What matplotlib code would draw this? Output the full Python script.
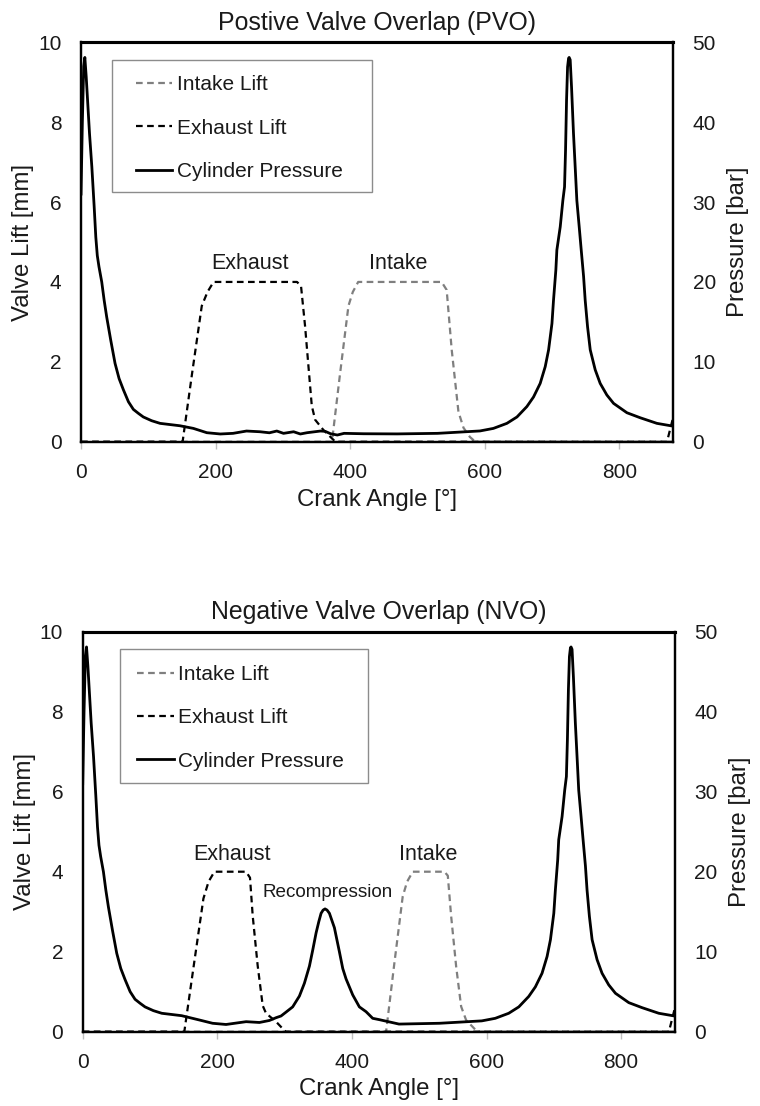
"""Valve lift and cylinder pressure traces for PVO and NVO strategies."""

import matplotlib

matplotlib.use("Agg")
import matplotlib.pyplot as plt
from matplotlib.lines import Line2D
from matplotlib.patches import Rectangle

plt.rcParams.update(
    {
        "font.family": ["Liberation Sans", "DejaVu Sans"],
        "font.size": 15,
        "text.color": "#1a1a1a",
        "axes.labelcolor": "#1a1a1a",
        "xtick.color": "#bfbfbf",
        "xtick.labelcolor": "#1a1a1a",
        "ytick.labelcolor": "#1a1a1a",
    }
)

INTAKE_GRAY = "#7f7f7f"

# --- positive valve overlap ---
pvo_exh_crank = [0, 151, 165, 179.5, 188, 197, 321, 327, 333, 338, 343, 348, 360, 375, 378, 871, 880]
pvo_exh_lift = [0, 0, 1.7, 3.4, 3.75, 4.0, 4.0, 3.9, 2.9, 1.9, 0.9, 0.55, 0.3, 0.05, 0, 0, 0.6]
pvo_int_crank = [0, 373, 385, 397.5, 404, 412, 536, 543.5, 551, 561, 568.5, 578, 586, 880]
pvo_int_lift = [0, 0, 1.7, 3.4, 3.75, 4.0, 4.0, 3.8, 2.3, 0.75, 0.35, 0.12, 0, 0]

# cylinder pressure, shared firing-peak readings
firing_crank = [
    0, 2, 4, 5.7, 7.7, 9.7, 12.6, 16.1, 19.5, 22.0, 24.2, 26.7, 30.8, 34.4, 38.2, 44.2,
    50.6, 56.6, 63, 70.5, 77.8, 85.3, 92.6, 105, 117.5, 147, 167,
]
firing_bar = [
    31, 40, 47, 48.1, 45.7, 42.8, 38.6, 34.4, 29.5, 25.6, 23.3, 21.9, 20, 17.7, 15.6, 12.7,
    9.8, 7.9, 6.5, 5.0, 4.05, 3.55, 3.1, 2.63, 2.3, 2.0, 1.67,
]
main_peak_crank = [
    593, 613, 633, 648, 662.7, 672.6, 682.5, 690, 695, 700, 702.3, 705.8, 707.3,
    712.3, 716.2, 718.7, 720.2, 721.7, 723.2, 724.7, 725.6, 727.1, 729.1, 732,
    735, 737, 740.5, 743.5, 747, 749.4, 752.9, 756.9, 764.3, 771.7, 781.6,
    791.6, 811.4, 831.2, 856, 880,
]
main_peak_bar = [
    1.35, 1.67, 2.3, 3.1, 4.4, 5.6, 7.3, 9.4, 11.5, 14.8, 17.7, 21.5, 24,
    26.9, 30.2, 31.9, 36.5, 42.8, 46.9, 48.0, 48.1, 47.8, 44.4, 38.6,
    33.6, 30.2, 26.9, 24, 20.7, 17.7, 14.4, 11.5, 9.0, 7.3, 5.85,
    4.8, 3.63, 3.0, 2.3, 1.95,
]
pvo_mid_crank = [
    187, 207, 226, 246, 266, 280, 291, 301, 316, 326, 336, 356, 363, 371, 381,
    391, 420, 470, 530,
]
pvo_mid_bar = [
    1.13, 0.97, 1.05, 1.34, 1.25, 1.12, 1.34, 1.05, 1.25, 0.97, 1.13, 1.34, 1.3, 1.0, 0.84,
    1.05, 1.0, 0.98, 1.05,
]

# --- negative valve overlap ---
nvo_exh_crank = [0, 151, 165, 179.4, 187, 195.7, 242.7, 248.6, 252.6, 260, 267.5, 272.4, 287.3, 299.7, 302, 871, 880]
nvo_exh_lift = [0, 0, 1.65, 3.33, 3.75, 4.0, 4.0, 3.85, 2.9, 1.65, 0.65, 0.46, 0.25, 0.03, 0, 0, 0.6]
nvo_int_crank = [0, 450.8, 463, 475.5, 482, 490.4, 537.5, 542.5, 547.4, 554.9, 562.3, 569.7, 584.6, 587, 880]
nvo_int_lift = [0, 0, 1.7, 3.38, 3.75, 4.0, 4.0, 3.9, 2.9, 1.63, 0.63, 0.29, 0.03, 0, 0]
nvo_mid_crank = [
    173.4, 193, 213, 242.8, 262.6, 277.4, 287.4, 294.7, 302.2, 312, 322, 329.4,
    336.9, 341.8, 346.8, 350.8, 354.2, 357.2, 360.1, 363.1, 366.6, 374, 381.4,
    386.4, 391.3, 401.2, 411.1, 421, 430.9, 440.9, 470, 530,
]
nvo_mid_bar = [
    1.46, 1.05, 0.9, 1.25, 1.15, 1.4, 1.75, 1.96, 2.45, 3.1, 4.45, 6.05,
    8.2, 10.2, 12.35, 13.75, 14.8, 15.2, 15.35, 15.2, 14.8, 13.0, 10.0,
    7.9, 6.6, 4.6, 3.1, 2.5, 1.67, 1.5, 0.95, 1.05,
]

pvo_p_crank = firing_crank + pvo_mid_crank + main_peak_crank
pvo_p_bar = firing_bar + pvo_mid_bar + main_peak_bar
nvo_p_crank = firing_crank[:-1] + nvo_mid_crank + main_peak_crank
nvo_p_bar = firing_bar[:-1] + nvo_mid_bar + main_peak_bar

legend_labels = ["Intake Lift", "Exhaust Lift", "Cylinder Pressure"]


def draw_panel(ax, title, exh, intake, pressure, notes, box, legend_xy):
    dash = (3.0, 2.0)
    ax.plot(intake[0], intake[1], color=INTAKE_GRAY, lw=1.6, dashes=dash, clip_on=False)
    ax.plot(exh[0], exh[1], color="black", lw=1.6, dashes=dash)
    ax.set_xlim(0, 880)
    ax.set_ylim(0, 10)
    ax.set_xticks([0, 200, 400, 600, 800])
    ax.set_yticks([0, 2, 4, 6, 8, 10])
    ax.tick_params(axis="x", direction="out", length=5, width=1, pad=10, labelsize=15)
    ax.tick_params(axis="y", length=0, pad=14, labelsize=15)
    ax.set_xlabel("Crank Angle [°]", fontsize=17.3, labelpad=5)
    ax.set_ylabel("Valve Lift [mm]", fontsize=17.3, labelpad=3)
    ax.set_title(title, fontsize=17.9, pad=9)

    axp = ax.twinx()
    axp.plot(pressure[0], pressure[1], color="black", lw=2.0, solid_joinstyle="round")
    axp.set_ylim(0, 50)
    axp.set_yticks([0, 10, 20, 30, 40, 50])
    axp.tick_params(axis="y", length=0, pad=14, labelsize=15)
    axp.set_ylabel("Pressure [bar]", fontsize=17.3, labelpad=8)

    for a in (ax, axp):
        for side in ("left", "right", "bottom"):
            a.spines[side].set_linewidth(1.6)
            a.spines[side].set_color("black")
        a.spines["top"].set_linewidth(2.2)
        a.spines["top"].set_color("black")

    for x, y, text, size in notes:
        ax.text(x, y, text, ha="center", va="center", fontsize=size)

    # legend frame sits a little wider than the entries
    x0, y0, x1, y1 = box
    axp.add_patch(
        Rectangle(
            (x0, y0), x1 - x0, y1 - y0, transform=axp.transAxes,
            facecolor="white", edgecolor="#8c8c8c", lw=1.0, zorder=4,
        )
    )
    handles = [
        Line2D([], [], color=INTAKE_GRAY, lw=1.6, dashes=dash),
        Line2D([], [], color="black", lw=1.6, dashes=dash),
        Line2D([], [], color="black", lw=2.0),
    ]
    leg = axp.legend(
        handles,
        legend_labels,
        loc="upper left",
        bbox_to_anchor=legend_xy,
        borderaxespad=0,
        borderpad=0,
        fontsize=15,
        frameon=False,
        handlelength=1.75,
        handletextpad=0.2,
        labelspacing=1.17,
    )
    leg.set_zorder(5)


fig = plt.figure(figsize=(7.6, 11.06), dpi=100)
ax_top = fig.add_axes([0.1066, 0.6006, 0.779, 0.3612])
ax_bot = fig.add_axes([0.1088, 0.0672, 0.7793, 0.3616])

draw_panel(
    ax_top,
    "Postive Valve Overlap (PVO)",
    (pvo_exh_crank, pvo_exh_lift),
    (pvo_int_crank, pvo_int_lift),
    (pvo_p_crank, pvo_p_bar),
    [(251, 4.45, "Exhaust", 15.5), (471, 4.45, "Intake", 15.5)],
    (0.0523, 0.6252, 0.491, 0.9557),
    (0.0929, 0.917),
)
draw_panel(
    ax_bot,
    "Negative Valve Overlap (NVO)",
    (nvo_exh_crank, nvo_exh_lift),
    (nvo_int_crank, nvo_int_lift),
    (nvo_p_crank, nvo_p_bar),
    [(222, 4.44, "Exhaust", 15.5), (514, 4.44, "Intake", 15.5), (364, 3.47, "Recompression", 13.6)],
    (0.0623, 0.621, 0.4822, 0.956),
    (0.0922, 0.917),
)

fig.savefig("out.png", dpi=100)
